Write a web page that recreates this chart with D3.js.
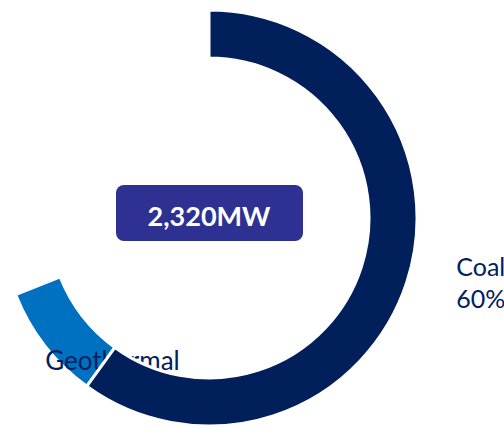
<!DOCTYPE html>
<html>
<head>
<meta charset="utf-8">
<script src="https://cdn.jsdelivr.net/npm/d3@7"></script>
<style>
  body { margin: 0; background: #fff; }
  text { font-family: Lato, "Open Sans", sans-serif; }
</style>
</head>
<body>
<svg id="chart" width="504" height="428"></svg>
<script>
var categories = ["Coal", "Geothermal", "Other"];
var shares = [60, 9, 31];
var colors = ["#001F5B", "#0070C0", "none"];
var total_label = "2,320MW";

var width = 504, height = 428,
    cx = 209, cy = 218,
    outer = 208, inner = 160;

var svg = d3.select("#chart");
var g = svg.append("g").attr("transform", "translate(" + cx + "," + cy + ")");

var pie = d3.pie().sort(null).value(function(d) { return d.value; });
var arcs = pie(categories.map(function(c, i) {
  return {name: c, value: shares[i], color: colors[i]};
}));
var shown = arcs.filter(function(d) { return d.data.color !== "none"; });

var arc = d3.arc().innerRadius(inner).outerRadius(outer);
var label_arc = d3.arc().innerRadius(260).outerRadius(260);
var inner_label_arc = d3.arc().innerRadius(150).outerRadius(150);

function draw_slice(d) {
  g.append("path")
    .attr("class", "slice")
    .attr("d", arc(d))
    .style("fill", d.data.color)
    .style("stroke", "#fff")
    .style("stroke-width", 3);
}

// small slices first, then labels, then coal on top (it covers part of the geothermal label)
shown.slice(1).forEach(draw_slice);

var labels = g.selectAll(".label")
    .data(shown)
  .enter().append("text")
    .attr("class", "label")
    .style("fill", "#002060")
    .style("font-size", "25px");

labels.each(function(d, i) {
  var t = d3.select(this);
  if (i === 0) {
    var p = label_arc.centroid(d);
    t.attr("x", p[0]).attr("y", p[1] - 22);
    t.append("tspan").attr("x", p[0]).text(d.data.name);
    t.append("tspan").attr("x", p[0]).attr("dy", 32).text(d.data.value + "%");
  } else {
    var q = inner_label_arc.centroid(d);
    t.attr("x", q[0] + 22).attr("y", q[1] + 60)
      .attr("text-anchor", "middle")
      .style("font-size", "26px")
      .text(d.data.name);
  }
});

draw_slice(shown[0]);

var box = g.append("g");
box.append("rect")
    .attr("x", -93).attr("y", -33)
    .attr("width", 187).attr("height", 56)
    .attr("rx", 8)
    .style("fill", "#2E3192");
box.append("text")
    .attr("x", 0).attr("y", 8)
    .attr("text-anchor", "middle")
    .style("fill", "#fff")
    .style("font-size", "27px")
    .style("font-weight", "bold")
    .text(total_label);
</script>
</body>
</html>
